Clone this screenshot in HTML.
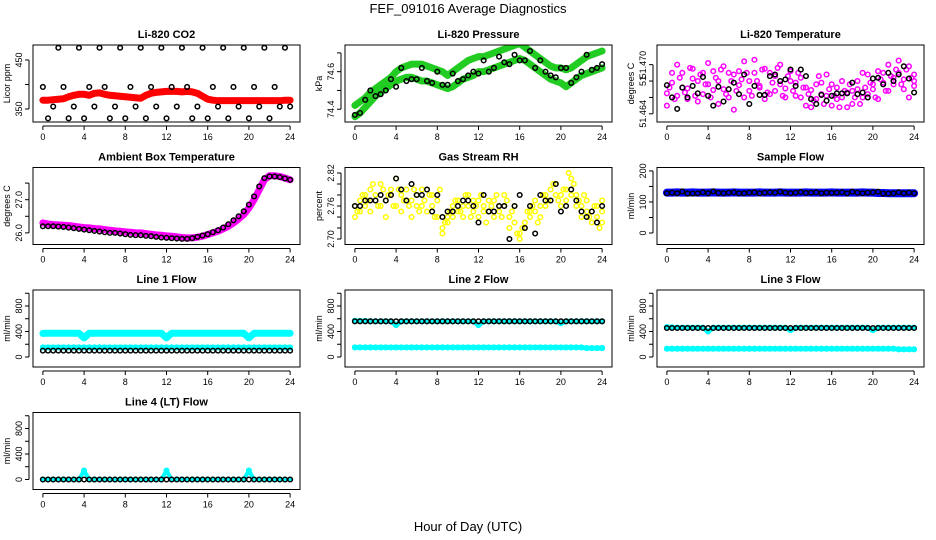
<!DOCTYPE html>
<html><head><meta charset="utf-8">
<style>
body{margin:0;background:#fff;}
svg{display:block;font-family:"Liberation Sans",sans-serif;}
</style></head>
<body>
<svg id="chart" width="936" height="540" viewBox="0 0 936 540">
<text x="468" y="13" text-anchor="middle" font-size="13">FEF_091016  Average Diagnostics</text>
<text x="468" y="531" text-anchor="middle" font-size="13">Hour of Day (UTC)</text>
</svg>
<script>
const xTicks=[0,4,8,12,16,20,24];
const co2Black=[395,331,355,475,395,331,355,475,331,395,355,475,395,331,355,475,331,395,355,475,331,395,355,475,331,395,355,475,395,331,355,475,331,395,355,475,331,395,355,475,331,395,355,475,331,395,355,475,355];
const co2Red=[368,368,369,370,371,375,378,380,380,378,382,383,380,378,377,376,375,374,373,372,378,382,384,385,386,386,386,385,386,385,382,376,370,368,367,367,367,367,367,367,367,367,367,367,367,367,367,368,368];
const presUpper=[74.42,74.44,74.46,74.49,74.51,74.53,74.55,74.57,74.6,74.62,74.63,74.64,74.64,74.64,74.63,74.62,74.61,74.6,74.58,74.6,74.62,74.64,74.66,74.67,74.68,74.68,74.69,74.7,74.71,74.72,74.73,74.74,74.75,74.73,74.71,74.69,74.67,74.65,74.63,74.62,74.62,74.61,74.62,74.64,74.66,74.68,74.69,74.7,74.71];
const presLower=[74.36,74.38,74.41,74.44,74.47,74.49,74.51,74.53,74.55,74.56,74.57,74.57,74.56,74.55,74.55,74.54,74.53,74.52,74.51,74.52,74.54,74.56,74.57,74.58,74.6,74.6,74.61,74.62,74.63,74.64,74.65,74.66,74.67,74.66,74.64,74.62,74.6,74.58,74.56,74.55,74.54,74.52,74.54,74.56,74.58,74.59,74.6,74.61,74.62];
const presBlack=[74.37,74.38,74.45,74.5,74.47,74.48,74.5,74.56,74.52,74.62,74.55,74.56,74.56,74.62,74.55,74.54,74.6,74.53,74.53,74.59,74.55,74.56,74.58,74.6,74.59,74.66,74.6,74.62,74.68,74.65,74.64,74.69,74.66,74.66,74.71,74.62,74.66,74.6,74.58,74.57,74.62,74.62,74.54,74.57,74.6,74.69,74.61,74.62,74.64];
const tempMagA=[51.4665,51.4678,51.4662,51.4690,51.4671,51.4683,51.4655,51.4690,51.4702,51.4669,51.4680,51.4698,51.4660,51.4688,51.4675,51.4704,51.4668,51.4690,51.4672,51.4695,51.4664,51.4686,51.4700,51.4671,51.4692,51.4678,51.4660,51.4650,51.4669,51.4658,51.4678,51.4662,51.4650,51.4672,51.4660,51.4648,51.4668,51.4680,51.4660,51.4688,51.4670,51.4692,51.4678,51.4700,51.4684,51.4705,51.4682,51.4698,51.4688];
const tempMagB=[51.4650,51.4690,51.4700,51.4672,51.4658,51.4695,51.4680,51.4664,51.4676,51.4692,51.4652,51.4670,51.4690,51.4645,51.4692,51.4660,51.4680,51.4706,51.4674,51.4658,51.4690,51.4668,51.4676,51.4660,51.4680,51.4662,51.4684,51.4672,51.4648,51.4676,51.4664,51.4688,51.4676,51.4658,51.4680,51.4666,51.4652,51.4670,51.4690,51.4664,51.4676,51.4658,51.4690,51.4668,51.4676,51.4690,51.4670,51.4660,51.4680];
const tempMagC=[51.4672,51.4658,51.4684,51.4666,51.4696,51.4662,51.4688,51.4676,51.4660,51.4684,51.4694,51.4664,51.4680,51.4668,51.4682,51.4690,51.4662,51.4680,51.4694,51.4666,51.4678,51.4696,51.4662,51.4686,51.4668,51.4690,51.4672,51.4664,51.4656,51.4686,51.4652,51.4670,51.4662,51.4648,51.4668,51.4676,51.4660,51.4652,51.4672,51.4678,51.4660,51.4682,51.4668,51.4686,51.4694,51.4676,51.4694,51.4684,51.4674];
const tempBlack=[51.4675,51.4660,51.4646,51.4672,51.4660,51.4674,51.4665,51.4685,51.4662,51.4650,51.4673,51.4655,51.4670,51.4678,51.4664,51.4688,51.4652,51.4674,51.4663,51.4663,51.4686,51.4688,51.4680,51.4682,51.4694,51.4674,51.4694,51.4686,51.4658,51.4652,51.4663,51.4656,51.4662,51.4665,51.4665,51.4665,51.4678,51.4664,51.4666,51.4660,51.4683,51.4684,51.4676,51.4690,51.4680,51.4688,51.4698,51.4683,51.4666];
const ambMag=[26.3,26.27,26.25,26.24,26.23,26.22,26.2,26.18,26.16,26.15,26.13,26.12,26.1,26.08,26.06,26.05,26.03,26.02,26.0,26.0,25.98,25.96,25.94,25.93,25.91,25.9,25.88,25.86,25.85,25.85,25.87,25.9,25.95,26.0,26.05,26.12,26.2,26.3,26.42,26.55,26.75,27.0,27.3,27.6,27.72,27.72,27.7,27.65,27.6];
const ambBlack=[26.2,26.2,26.2,26.19,26.18,26.16,26.14,26.12,26.1,26.08,26.06,26.04,26.02,26.0,26.0,25.98,25.96,25.94,25.93,25.93,25.91,25.9,25.88,25.86,25.85,25.84,25.83,25.82,25.82,25.84,25.88,25.92,25.96,26.02,26.08,26.16,26.26,26.38,26.5,26.65,26.85,27.1,27.4,27.65,27.7,27.7,27.68,27.64,27.6];
const rhYellowA=[2.76,2.77,2.78,2.79,2.78,2.80,2.77,2.79,2.81,2.78,2.79,2.77,2.78,2.76,2.79,2.78,2.77,2.72,2.74,2.76,2.77,2.76,2.78,2.75,2.77,2.76,2.75,2.77,2.76,2.78,2.74,2.76,2.71,2.73,2.75,2.77,2.76,2.78,2.79,2.80,2.78,2.79,2.81,2.78,2.76,2.77,2.75,2.76,2.75];
const rhYellowB=[2.74,2.75,2.76,2.75,2.77,2.76,2.74,2.78,2.76,2.75,2.77,2.74,2.76,2.79,2.75,2.76,2.74,2.71,2.73,2.74,2.75,2.74,2.76,2.77,2.74,2.75,2.77,2.74,2.75,2.76,2.72,2.73,2.70,2.72,2.74,2.75,2.74,2.76,2.77,2.78,2.76,2.77,2.78,2.76,2.74,2.75,2.73,2.74,2.73];
const rhYellowC=[2.75,2.78,2.77,2.80,2.76,2.79,2.78,2.76,2.79,2.77,2.76,2.79,2.75,2.77,2.78,2.74,2.79,2.73,2.75,2.77,2.75,2.78,2.74,2.76,2.78,2.73,2.76,2.78,2.74,2.77,2.75,2.71,2.72,2.75,2.76,2.73,2.78,2.77,2.80,2.77,2.79,2.82,2.80,2.77,2.78,2.74,2.76,2.72,2.77];
const rhBlack=[2.76,2.76,2.77,2.77,2.77,2.78,2.77,2.78,2.81,2.79,2.77,2.80,2.78,2.78,2.79,2.75,2.78,2.74,2.75,2.75,2.76,2.77,2.77,2.76,2.73,2.78,2.75,2.75,2.76,2.76,2.70,2.76,2.78,2.72,2.76,2.71,2.78,2.77,2.77,2.80,2.75,2.76,2.79,2.77,2.75,2.74,2.75,2.73,2.76];
const sampleBlue=[130,130,131,130,130,131,130,130,130,131,130,130,130,131,130,130,130,130,131,130,130,130,131,130,130,130,130,131,130,130,130,130,131,130,130,130,130,130,131,130,130,129,129,128,128,128,128,128,128];
const sampleBlack=[128,130,128,134,127,127,128,131,128,134,129,128,130,131,128,128,130,131,128,130,131,130,133,130,128,130,132,129,130,131,128,130,129,130,131,128,133,130,128,130,131,133,127,127,128,131,128,130,128];
const l1CyanTop=[370,372,372,372,372,372,372,372,300,372,372,372,372,372,372,372,372,372,372,372,372,372,372,372,300,372,372,372,372,372,372,372,372,372,372,372,372,372,372,372,300,372,372,372,372,372,372,372,372];
const l1CyanLow=[150,150,150,150,150,150,150,150,150,150,150,150,150,150,150,150,150,150,150,150,150,150,150,150,150,150,150,150,150,150,150,150,150,150,150,150,150,150,150,150,150,150,150,150,150,150,150,150,150];
const l1Black=[100,100,100,100,100,100,100,100,100,100,100,100,100,100,100,100,100,100,100,100,100,100,100,100,100,100,100,100,100,100,100,100,100,100,100,100,100,100,100,100,100,100,100,100,100,100,100,100,100];
const l2CyanTop=[570,565,565,562,560,560,560,560,500,560,560,560,560,560,560,560,560,560,560,560,560,560,560,560,500,560,560,560,560,560,560,560,560,560,560,560,560,560,560,560,530,560,560,560,560,560,560,560,560];
const l2CyanLow=[150,150,150,150,150,150,150,150,150,150,150,150,150,150,150,150,150,150,150,150,150,150,150,150,150,150,150,150,150,150,150,150,150,150,150,150,150,150,150,150,150,150,150,150,150,140,140,140,140];
const l2Black=[560,560,560,560,560,560,560,560,560,560,560,560,560,560,560,560,560,560,560,560,560,560,560,560,560,560,560,560,560,560,560,560,560,560,560,560,560,560,560,560,560,560,560,560,560,560,560,560,560];
const l3CyanTop=[470,465,460,460,460,460,460,460,400,460,460,460,460,460,460,460,460,460,460,460,460,460,460,460,420,460,460,460,460,460,460,460,460,460,460,460,460,460,460,460,420,460,460,460,460,460,460,460,460];
const l3CyanLow=[130,130,130,130,130,130,130,130,130,130,130,130,130,130,130,130,130,130,130,130,130,130,130,130,130,130,130,130,130,130,130,130,130,130,130,130,130,130,130,130,130,130,130,130,130,120,120,120,120];
const l3Black=[455,455,455,455,455,455,455,455,455,455,455,455,455,455,455,455,455,455,455,455,455,455,455,455,455,455,455,455,455,455,455,455,455,455,455,455,455,455,455,455,455,455,455,455,455,455,455,455,455];
const l4Cyan=[0,0,0,0,0,0,0,0,140,0,0,0,0,0,0,0,0,0,0,0,0,0,0,0,140,0,0,0,0,0,0,0,0,0,0,0,0,0,0,0,140,0,0,0,0,0,0,0,0];
const l4Black=[0,0,0,0,0,0,0,0,0,0,0,0,0,0,0,0,0,0,0,0,0,0,0,0,0,0,0,0,0,0,0,0,0,0,0,0,0,0,0,0,0,0,0,0,0,0,0,0,0];

const svg=document.getElementById('chart');
const NS='http://www.w3.org/2000/svg';
function mk(tag,attrs,parent){const e=document.createElementNS(NS,tag);for(const k in attrs)e.setAttribute(k,attrs[k]);(parent||svg).appendChild(e);return e;}
const colLeft=[33,345,657], W=267, rowTop=[45,167.5,290,412.5], H=77;
const GREEN='#22cc22',MAG='#ff00ff',YEL='#ffff00',BLUE='#0000ff',CYAN='#00ffff',RED='#ff0000';
const panels=[
{t:'Li-820 CO2',y:'Licor ppm',c:0,r:0,min:323.5,max:480.6,ticks:[350,400,450],labs:['350','','450'],s:[{v:co2Red,c:RED,line:7},{v:co2Black,c:'#000'}]},
{t:'Li-820 Pressure',y:'kPa',c:1,r:0,min:74.332,max:74.742,ticks:[74.4,74.5,74.6,74.7],labs:['74.4','','74.6',''],s:[{v:presUpper,c:GREEN,line:7},{v:presLower,c:GREEN,line:7},{v:presBlack,c:'#000'}]},
{t:'Li-820 Temperature',y:'degrees C',c:2,r:0,min:51.463,max:51.4724,ticks:[51.464,51.466,51.468,51.470],labs:['51.464','','51','51.470'],s:[{v:tempMagA,c:MAG},{v:tempMagB,c:MAG},{v:tempMagC,c:MAG,off:0.25},{v:tempBlack,c:'#000'}]},
{t:'Ambient Box Temperature',y:'degrees C',c:0,r:1,min:25.65,max:27.97,ticks:[26,26.5,27,27.5],labs:['26.0','','27.0',''],s:[{v:ambMag,c:MAG,line:7},{v:ambBlack,c:'#000'}]},
{t:'Gas Stream RH',y:'percent',c:1,r:1,min:2.69,max:2.83,ticks:[2.70,2.72,2.74,2.76,2.78,2.80,2.82],labs:['2.70','','','2.76','','','2.82'],s:[{v:rhYellowA,c:YEL},{v:rhYellowB,c:YEL},{v:rhYellowC,c:YEL,off:0.25},{v:rhBlack,c:'#000'}]},
{t:'Sample Flow',y:'ml/min',c:2,r:1,min:-37,max:211,ticks:[0,50,100,150,200],labs:['0','','100','','200'],s:[{v:sampleBlue,c:BLUE,line:8},{v:sampleBlack,c:'#000'}]},
{t:'Line 1 Flow',y:'ml/min',c:0,r:2,min:-157,max:1051,ticks:[0,200,400,600,800,1000],labs:['0','','400','','800',''],s:[{v:l1CyanTop,c:CYAN,line:7},{v:l1CyanLow,c:CYAN,line:5},{v:l1Black,c:'#000'}]},
{t:'Line 2 Flow',y:'ml/min',c:1,r:2,min:-157,max:1051,ticks:[0,200,400,600,800,1000],labs:['0','','400','','800',''],s:[{v:l2CyanTop,c:CYAN,line:5},{v:l2CyanLow,c:CYAN,line:5},{v:l2Black,c:'#000'}]},
{t:'Line 3 Flow',y:'ml/min',c:2,r:2,min:-157,max:1051,ticks:[0,200,400,600,800,1000],labs:['0','','400','','800',''],s:[{v:l3CyanTop,c:CYAN,line:5},{v:l3CyanLow,c:CYAN,line:5},{v:l3Black,c:'#000'}]},
{t:'Line 4 (LT) Flow',y:'ml/min',c:0,r:3,min:-157,max:1051,ticks:[0,200,400,600,800,1000],labs:['0','','400','','800',''],s:[{v:l4Cyan,c:CYAN,line:4},{v:l4Black,c:'#000'}]}
];
panels.forEach((p,pi)=>{
  const L=colLeft[p.c],T=rowTop[p.r];
  const g=mk('g',{});
  
  
  const xs=h=>L+(h+0.96)/25.92*W;
  const ys=v=>T+(p.max-v)/(p.max-p.min)*H;
  const cp=mk('clipPath',{id:'cp'+pi},g);mk('rect',{x:L,y:T,width:W,height:H},cp);
  const data=mk('g',{'clip-path':'url(#cp'+pi+')'},g);
  p.s.forEach((s,si)=>{
    const off=s.off||0;
    const pts=s.v.map((v,i)=>[xs(Math.min(24,i*0.5+off)),ys(v)]);
    if(s.line){
      const pl=mk('polyline',{points:pts.map(q=>q.join(',')).join(' '),fill:'none',stroke:s.c,'stroke-width':s.line,'stroke-linejoin':'round','stroke-linecap':'round'},data);
      
      
    }
    pts.forEach(q=>{
      const c=mk('circle',{cx:q[0],cy:q[1],r:2.3,fill:'none',stroke:s.c,'stroke-width':1.5},data);
      
      
    });
  });
  const box=mk('rect',{x:L,y:T,width:W,height:H,fill:'none',stroke:'#000','stroke-width':1},g);
  
  
  const tt=mk('text',{x:L+W/2,y:T-7,'text-anchor':'middle','font-size':11,'font-weight':'bold'},g);tt.textContent=p.t;
  
  
  mk('line',{x1:xs(0),x2:xs(24),y1:T+H+4,y2:T+H+4,stroke:'#000'},g);
  xTicks.forEach(h=>{
    mk('line',{x1:xs(h),x2:xs(h),y1:T+H+4,y2:T+H+8,stroke:'#000'},g);
    const tx=mk('text',{x:xs(h),y:T+H+18,'text-anchor':'middle','font-size':9},g);tx.textContent=h;
    
    
  });
  mk('line',{x1:L-4,x2:L-4,y1:ys(p.ticks[0]),y2:ys(p.ticks[p.ticks.length-1]),stroke:'#000'},g);
  p.ticks.forEach((v,i)=>{
    const y=ys(v);
    mk('line',{x1:L-8,x2:L-4,y1:y,y2:y,stroke:'#000'},g);
    if(p.labs[i]){
      const ty=mk('text',{x:L-11,y:y,'text-anchor':'middle','font-size':9,transform:'rotate(-90 '+(L-11)+' '+y+')'},g);ty.textContent=p.labs[i];
      
      
    }
  });
  const yl=mk('text',{x:L-23,y:T+H/2,'text-anchor':'middle','font-size':9,transform:'rotate(-90 '+(L-23)+' '+(T+H/2)+')'},g);yl.textContent=p.y;
  
  
});
</script>
</body></html>
